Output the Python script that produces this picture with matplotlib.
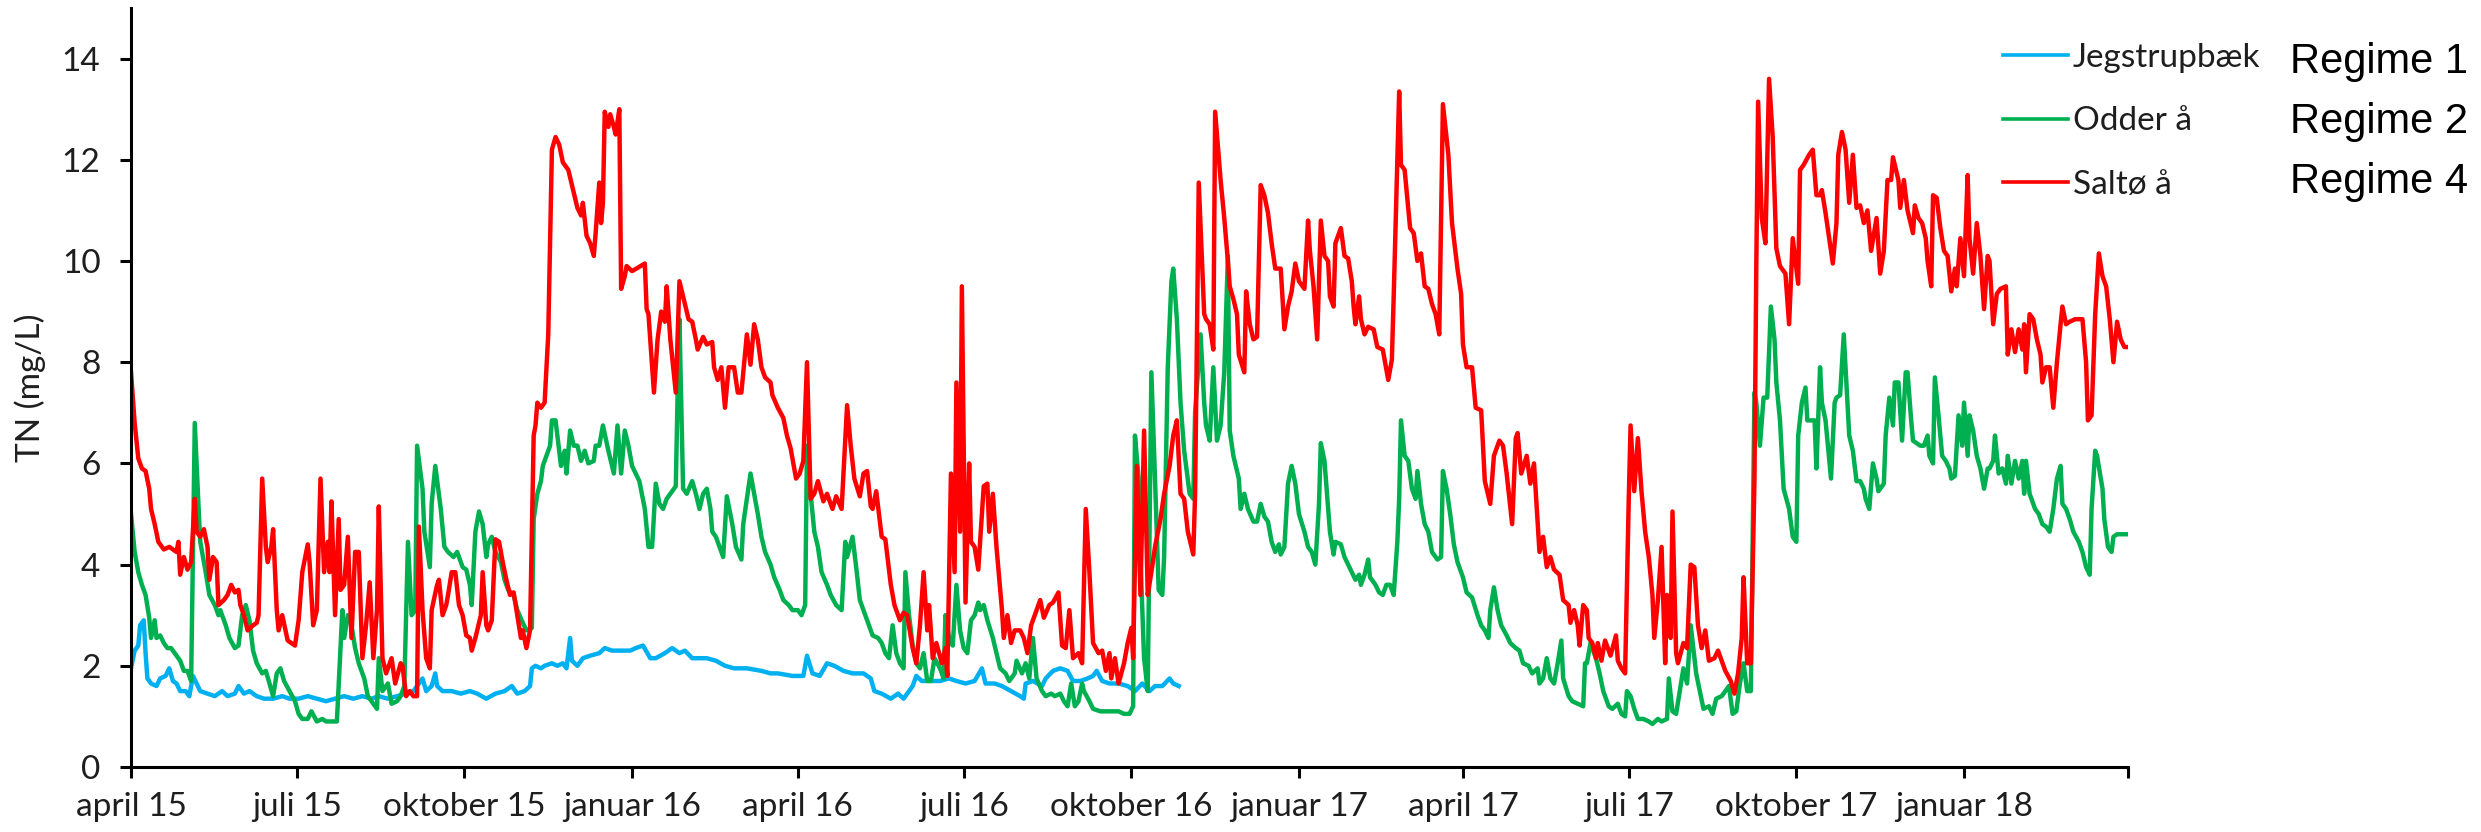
import numpy as np
import matplotlib
matplotlib.use('Agg')
import matplotlib.pyplot as plt

# ---------------- data (day offset from 1 April 2015, TN mg/L) ----------------
start_date = '2015-04-01'
end_date = '2018-04-01'

jeg_days = [0, 2, 4, 5, 7, 8, 9, 11, 14, 16, 19, 21, 23, 25, 27, 30, 32, 34, 36, 38, 42, 46, 50, 53, 57, 59, 62, 65,
            69, 73, 78, 83, 87, 92, 97, 102, 107, 112, 117, 122, 127, 132, 136, 141, 146, 151, 155, 157, 160, 162,
            165, 167, 168, 171, 176, 181, 186, 190, 195, 200, 205, 209, 212, 216, 219, 220, 222, 225, 227, 231, 234,
            237, 239, 241, 242, 245, 248, 252, 257, 260, 264, 269, 274, 277, 281, 285, 288, 293, 297, 301, 304, 308,
            311, 316, 321, 326, 331, 338, 346, 351, 355, 363, 369, 371, 374, 378, 382, 386, 391, 396, 402, 406, 408,
            412, 417, 421, 424, 427, 429, 431, 434, 439, 444, 449, 453, 458, 463, 467, 469, 474, 478, 483, 488, 490,
            491, 495, 500, 502, 506, 510, 514, 517, 521, 525, 528, 530, 533, 537, 542, 547, 551, 555, 559, 562, 566,
            570, 572, 575]
jeg_tn = [1.95, 2.3, 2.4, 2.8, 2.9, 2.25, 1.75, 1.65, 1.6, 1.75, 1.8, 1.95, 1.7, 1.65, 1.5, 1.5, 1.4, 1.8, 1.65, 1.5,
          1.45, 1.4, 1.5, 1.4, 1.45, 1.6, 1.45, 1.5, 1.4, 1.35, 1.35, 1.4, 1.35, 1.35, 1.4, 1.35, 1.3, 1.35, 1.4, 1.35,
          1.4, 1.35, 1.4, 1.35, 1.4, 1.45, 1.5, 1.6, 1.75, 1.5, 1.6, 1.85, 1.6, 1.5, 1.5, 1.45, 1.5, 1.45, 1.35, 1.45,
          1.5, 1.6, 1.45, 1.5, 1.6, 1.95, 2.0, 1.95, 2.0, 2.05, 2.0, 2.05, 1.95, 2.55, 2.1, 2.0, 2.15, 2.2, 2.25, 2.35,
          2.3, 2.3, 2.3, 2.35, 2.4, 2.15, 2.15, 2.25, 2.35, 2.25, 2.3, 2.15, 2.15, 2.15, 2.1, 2.0, 1.95, 1.95, 1.9,
          1.85, 1.85, 1.8, 1.8, 2.2, 1.85, 1.8, 2.05, 2.0, 1.9, 1.85, 1.85, 1.75, 1.5, 1.45, 1.35, 1.45, 1.35, 1.5,
          1.6, 1.8, 1.7, 1.7, 1.7, 1.75, 1.7, 1.65, 1.7, 1.95, 1.65, 1.65, 1.6, 1.5, 1.4, 1.35, 1.65, 1.7, 1.6, 1.75,
          1.9, 1.95, 1.9, 1.7, 1.7, 1.75, 1.8, 1.9, 1.7, 1.65, 1.65, 1.6, 1.5, 1.65, 1.5, 1.6, 1.6, 1.75, 1.65, 1.6]

odder_days = [0, 2, 4, 6, 8, 10, 11, 13, 14, 16, 18, 20, 22, 25, 27, 29, 31, 33, 35, 37, 38, 41, 43, 46, 48, 49, 52,
              54, 57, 59, 61, 63, 65, 67, 69, 72, 74, 76, 78, 80, 82, 84, 87, 90, 92, 94, 97, 99, 102, 105, 107, 111,
              113, 116, 117, 119, 121, 123, 125, 128, 130, 133, 135, 136, 138, 141, 143, 146, 148, 150, 152, 154, 156,
              157, 160, 161, 164, 165, 167, 170, 172, 174, 177, 179, 182, 184, 186, 187, 189, 191, 193, 195, 196, 198,
              200, 203, 205, 207, 210, 212, 215, 217, 220, 221, 223, 225, 226, 228, 230, 231, 233, 235, 236, 238, 239,
              241, 243, 245, 247, 249, 251, 254, 255, 257, 259,
              262, 265, 267, 269, 271, 273, 275, 277, 279, 282, 284, 286, 288, 290, 292, 294, 297, 299, 300, 301, 303,
              305, 308, 310, 312, 314, 316, 318, 319, 321, 323, 325, 327, 330, 332, 335, 336, 338, 340, 342, 344, 346,
              348, 351, 353, 356, 358, 361, 363, 366, 368, 370, 371, 373, 375, 377, 379, 382, 384, 387, 390, 392, 393,
              396, 398, 400, 402, 405, 407, 410, 412, 414, 416, 418, 420, 422, 424, 425, 427, 429, 431, 433, 435, 437,
              439, 441, 444, 446, 447, 449, 451, 453, 455, 457, 459, 461, 463, 465, 466, 468, 470, 473, 475, 477, 480,
              482, 485, 486, 489, 491, 493, 495, 497, 500, 502, 505, 507, 510, 512, 514, 516, 518, 520, 522, 523, 526,
              528, 532, 537, 542, 545, 548, 550, 551, 553, 554, 556, 558, 560, 562, 564, 566, 567, 569, 571, 572, 574,
              576, 578, 581, 583, 584,
              587, 589, 590, 592, 594, 596, 598, 600, 602, 603, 605, 608, 609, 611, 613, 616, 618, 620, 622, 624, 626,
              628, 630, 631, 633, 635, 637, 639, 641, 644, 646, 648, 650, 652, 653, 655, 657, 658, 660, 661, 664, 666,
              668, 670, 672, 674, 675, 677, 679, 680, 683, 685, 687, 689, 691, 693, 695, 696, 697, 699, 701, 703, 705,
              706, 708, 710, 712, 714, 717, 719, 720, 722, 724, 726, 728, 731, 733, 736, 739, 741, 743, 745, 746, 748,
              750, 752, 755, 757, 760, 762, 764, 767, 769, 772, 773, 775, 777, 779, 781, 783, 785, 786, 789, 791, 794,
              797, 798, 799, 801, 804, 806, 808, 811, 813, 816, 818, 820, 821, 823, 825, 827, 830, 833, 835, 838, 840,
              843, 844, 846, 848, 850, 852, 854, 856, 859, 861, 863, 866, 868, 870, 873, 875, 877, 879, 881, 883, 885,
              887, 889, 891, 892, 894, 896, 898, 900, 902, 903, 905, 907, 910, 912, 914, 915,
              917, 919, 920, 922, 924, 925, 927, 928, 930, 933, 935, 936, 938, 940, 942, 943, 945, 947, 949, 951, 952,
              954, 956, 958, 959, 962, 963, 965, 967, 968, 970, 972, 974, 975, 977, 978, 980, 982, 984, 986, 987, 989,
              990, 992, 994, 996, 998, 999, 1001, 1003, 1005, 1006, 1008, 1009, 1011, 1013, 1015, 1017, 1019, 1020,
              1022, 1023, 1025, 1027, 1029, 1030, 1032, 1034, 1036, 1038, 1039, 1040, 1042, 1045, 1047, 1049, 1051,
              1053, 1055, 1057, 1059, 1060, 1062, 1064, 1066, 1069, 1071, 1073, 1075, 1076, 1078, 1079, 1082, 1083,
              1085, 1087, 1088, 1090, 1096]
odder_tn = [5.0, 4.25, 3.85, 3.6, 3.4, 2.95, 2.55, 2.9, 2.55, 2.6, 2.45, 2.35, 2.35, 2.2, 2.1, 1.9, 1.9, 1.7, 6.8, 5.2,
            4.45, 3.85, 3.4, 3.2, 3.0, 3.1, 2.8, 2.55, 2.35, 2.4, 3.0, 3.2, 2.9, 2.3, 2.05, 1.85, 1.9, 1.65, 1.4, 1.85,
            1.95, 1.7, 1.5, 1.3, 1.05, 0.95, 0.95, 1.1, 0.9, 0.95, 0.9, 0.9, 0.9, 3.1, 2.55, 3.0, 2.8, 2.35, 2.05,
            1.75, 1.4, 1.25, 1.15, 2.15, 1.5, 1.65, 1.25, 1.3, 1.4, 1.6, 4.45, 3.0, 3.1, 6.35, 5.5, 4.65, 3.95, 5.2,
            5.95, 5.1, 4.35, 4.25, 4.15, 4.25, 3.95, 3.9, 3.6, 3.2, 4.65, 5.05, 4.8, 4.15, 4.4, 4.55, 4.25, 4.05, 3.7,
            3.5, 3.4, 3.1, 2.85, 2.7, 2.75, 4.9, 5.4, 5.65, 5.95, 6.15, 6.35, 6.85, 6.85, 6.25, 5.95, 6.25, 5.8, 6.65,
            6.35, 6.35, 6.05, 6.25, 6.0, 6.05, 6.35, 6.35, 6.75,
            6.25, 5.8, 6.75, 5.8, 6.65, 6.35, 5.95, 5.8, 5.65, 5.1, 4.35, 4.35, 5.6, 5.2, 5.1, 5.3, 5.45, 5.55, 7.4,
            8.85, 5.5, 5.4, 5.65, 5.4, 5.1, 5.4, 5.5, 5.1, 4.65, 4.55, 4.35, 4.15, 5.35, 4.8, 4.35, 4.1, 4.8, 5.3, 5.8,
            5.4, 5.0, 4.55, 4.25, 4.0, 3.75, 3.5, 3.3, 3.2, 3.1, 3.1, 3.0, 3.2, 6.35, 5.4, 4.65, 4.35, 3.85, 3.6, 3.4,
            3.2, 3.1, 4.45, 4.15, 4.55, 3.95, 3.3, 3.1, 2.8, 2.6, 2.55, 2.45, 2.25, 2.15, 2.8, 2.25, 2.05, 1.95, 3.85,
            3.0, 2.4, 2.05, 1.95, 2.25, 1.7, 1.7, 2.15, 1.95, 1.75, 3.0, 2.55, 2.4, 3.6, 2.7, 2.35, 2.25, 2.9, 3.0,
            3.25, 3.1, 3.2, 2.9, 2.55, 2.25, 1.95, 1.85, 1.7, 1.85, 2.1, 1.85, 2.05, 1.75, 2.55, 1.75, 1.5, 1.4, 1.45,
            1.4, 1.45, 1.3, 1.2, 1.65, 1.2, 1.3, 1.65, 1.5, 1.3, 1.15, 1.1, 1.1, 1.1, 1.05, 1.05, 1.2, 6.55, 5.7, 4.15,
            2.15, 1.5, 7.8, 5.7, 3.5, 3.4, 4.15, 7.9, 9.6, 9.85, 8.85, 7.2, 6.25, 5.4, 5.3, 7.0,
            8.55, 7.2, 6.75, 6.45, 7.9, 6.45, 6.75, 7.8, 10.1, 6.65, 6.15, 5.7, 5.1, 5.4, 5.1, 4.85, 4.85, 5.2, 4.95,
            4.85, 4.45, 4.25, 4.4, 4.2, 4.35, 5.6, 5.95, 5.6, 5.0, 4.65, 4.35, 4.25, 4.0, 5.2, 6.4, 6.05, 5.1, 4.65,
            4.2, 4.45, 4.4, 4.15, 4.0, 3.85, 3.7, 3.8, 3.6, 3.8, 4.1, 3.75, 3.6, 3.45, 3.4, 3.6, 3.6, 3.4, 4.45, 5.3,
            6.85, 6.15, 6.05, 5.5, 5.3, 5.85, 5.2, 4.8, 4.65, 4.25, 4.1, 4.15, 5.85, 5.5, 5.0, 4.4, 4.05, 3.75, 3.45,
            3.35, 3.0, 2.8, 2.7, 2.55, 3.1, 3.55, 3.1, 2.8, 2.6, 2.45, 2.35, 2.3, 2.05, 2.0, 1.85, 1.95, 1.65, 1.75,
            2.15, 1.75, 1.65, 2.05, 2.5, 1.75, 1.4, 1.3, 1.25, 1.2, 2.05, 2.05, 2.45, 2.15, 1.85, 1.5, 1.2, 1.15, 1.25,
            1.05, 1.0, 1.5, 1.4, 1.15, 0.95, 0.95, 0.9, 0.85, 0.95, 0.9, 0.95, 1.75, 1.1, 1.05, 1.5, 1.95, 1.65, 2.8,
            1.85, 1.5, 1.15, 1.2, 1.05, 1.35, 1.4, 1.5, 1.6, 1.05, 1.1, 1.65, 2.05, 1.5, 1.5, 7.4, 7.2, 6.35, 7.3,
            7.3, 9.1, 8.45, 7.6, 6.85, 5.5, 5.1, 4.55, 4.45, 6.55,
            7.2, 7.5, 6.85, 6.85, 6.85, 5.9, 7.9, 7.2, 6.85, 5.7, 7.2, 7.3, 7.35, 8.55, 7.2, 6.55, 6.25, 5.65, 5.65,
            5.5, 5.3, 5.1, 6.0, 5.7, 5.45, 5.6, 6.55, 7.3, 6.75, 7.6, 7.6, 6.45, 7.8, 7.8, 6.85, 6.45, 6.4, 6.35,
            6.35, 6.55, 6.15, 6.0, 7.7, 6.95, 6.15, 6.05, 5.9, 5.7, 5.75, 6.95, 6.35, 7.2, 6.15, 6.95, 6.65, 6.15,
            5.9, 5.5, 5.9, 5.9, 6.05, 6.55, 5.8, 5.9, 5.6, 6.15, 5.6, 6.05, 5.7, 6.05, 5.4, 6.05, 5.4, 5.1, 5.0, 4.8,
            4.75, 4.65, 5.1, 5.7, 5.95, 5.2, 5.1, 4.9, 4.65, 4.45, 4.25, 3.95, 3.8, 5.1, 6.25, 6.15, 5.5, 4.9, 4.35,
            4.25, 4.55, 4.6, 4.6]

salto_days = [0, 2, 4, 6, 8, 10, 11, 13, 15, 18, 21, 25, 26, 27, 29, 31, 33, 35, 36, 38, 40, 42, 43, 45, 47, 48, 51,
              53, 55, 57, 59, 60, 62, 64, 67, 69, 70, 72, 74, 75, 77, 78, 80, 81, 83, 86, 90, 92, 94, 97, 98, 100, 102,
              104, 106, 108, 109, 110, 112, 114, 115, 117, 119, 121, 123, 125, 127, 129, 131, 133, 135, 136, 138, 140,
              143, 145, 148, 149, 151, 153, 155, 157, 158, 160, 162, 164, 165, 168, 169, 171, 173, 174, 176, 178, 180,
              182, 184, 186, 187, 189, 192, 193, 195, 196, 198, 200, 202, 204, 206, 208, 210, 212, 214, 215, 217, 219,
              221, 222, 223, 225, 227, 229, 231, 233, 235, 237, 240, 242, 245, 247, 248, 250, 252, 254, 255, 257, 258,
              259,
              260, 262, 263, 265, 266, 268, 269, 271, 272, 275, 282, 283, 284, 287, 289, 291, 293, 294, 296, 299, 301,
              304, 306, 308, 310, 311, 314, 316, 319, 320, 322, 324, 326, 328, 331, 333, 335, 338, 340, 342, 344, 346,
              348, 351, 352, 355, 358, 360, 362, 365, 367, 369, 371, 373, 375, 377, 380, 382, 385, 387, 390, 393, 395,
              397, 400, 402, 404, 406, 407, 409, 412, 414, 417, 419, 422, 424, 426, 429, 431, 433, 435, 437, 438, 440,
              442, 445, 447, 448, 450, 452, 453, 455, 456, 458, 460, 461, 463, 465, 468, 470, 471, 473, 475, 478, 479,
              481, 483, 485, 488, 490, 492, 494, 496, 499, 501, 504, 506, 509, 511, 513, 515, 517, 520, 522, 524, 526,
              528, 531, 533, 535, 537, 538, 540, 542, 545, 547, 549, 550, 552, 554, 556, 558, 560, 562, 565, 567, 570,
              572, 574, 576, 578, 580, 583, 584, 586,
              589, 590, 592, 594, 595, 598, 600, 602, 603, 605, 607, 608, 611, 612, 614, 616, 618, 620, 622, 624, 626,
              628, 631, 633, 635, 637, 639, 641, 643, 644, 646, 647, 649, 651, 653, 655, 657, 658, 660, 661, 664, 666,
              668, 670, 671, 672, 674, 675, 677, 679, 682, 684, 687, 688, 690, 692, 693, 695, 696, 697, 699, 702, 704,
              706, 708, 710, 712, 714, 716, 718, 720, 723, 725, 728, 730, 731, 733, 736, 738, 741, 743, 746, 748, 751,
              753, 755, 758, 760, 761, 763, 766, 768, 770, 773, 775, 777, 779, 781, 784, 786, 789, 790, 792, 794, 795,
              797, 799, 800, 802, 804, 805, 807, 809, 812, 815, 816, 818, 820, 822, 823, 825, 827, 829, 831, 833, 835,
              836, 838, 840, 842, 843, 845, 846, 848, 849, 852, 854, 856, 858, 860, 862, 864, 866, 869, 871, 873, 875,
              878, 880, 882, 884, 885, 887, 889, 891, 892, 893, 895, 897, 899, 901, 903, 905, 908, 910, 912, 915, 916,
              918, 921, 923, 925, 927, 928, 930, 932, 934, 936, 937, 939, 941, 943, 945, 947, 949, 951, 953, 955, 958,
              960, 962, 964, 966, 967, 970, 971, 973, 975, 978, 979, 981, 983, 985, 986, 988, 989, 991, 993, 995, 997,
              999, 1001, 1002, 1004, 1006, 1008, 1009, 1011, 1013, 1015, 1017, 1019, 1020, 1022, 1024, 1026, 1029,
              1030, 1032, 1034, 1036, 1038, 1039, 1040, 1042, 1044, 1046, 1048, 1049, 1051, 1053, 1055, 1057, 1059,
              1060, 1062, 1064, 1067, 1071, 1073, 1074, 1076, 1078, 1080, 1082, 1084, 1086, 1088, 1090, 1092, 1094,
              1096]
salto_tn = [7.8, 6.8, 6.1, 5.9, 5.85, 5.5, 5.1, 4.8, 4.45, 4.3, 4.35, 4.25, 4.45, 3.8, 4.15, 3.9, 4.05, 5.3, 4.65,
            4.55, 4.7, 4.35, 3.7, 4.15, 4.05, 3.2, 3.3, 3.4, 3.6, 3.45, 3.5, 3.2, 3.0, 2.7, 2.8, 2.85, 3.0, 5.7, 4.35,
            4.05, 4.35, 4.7, 3.1, 2.7, 3.0, 2.5, 2.4, 2.9, 3.85, 4.4, 4.05, 2.8, 3.1, 5.7, 3.85, 4.45, 3.85, 5.25, 3.0,
            4.9, 3.5, 3.6, 4.55, 2.55, 4.25, 4.25, 2.15, 2.8, 3.65, 2.15, 3.1, 5.15, 2.15, 1.85, 2.15, 1.65, 2.05, 2.0,
            1.4, 1.5, 1.4, 1.4, 4.75, 3.1, 2.15, 1.95, 3.1, 3.6, 3.7, 3.0, 3.2, 3.4, 3.85, 3.85, 3.2, 3.0, 2.6, 2.55,
            2.3, 2.55, 3.0, 3.85, 2.8, 2.7, 2.9, 4.5, 4.45, 4.05, 3.7, 3.4, 3.45, 3.0, 2.55, 2.7, 2.35, 2.7, 6.55, 6.75,
            7.2, 7.1, 7.2, 8.55, 12.2, 12.45, 12.3, 11.95, 11.8, 11.5, 11.05, 10.9, 11.15, 10.5, 10.35, 10.1, 10.55,
            11.55, 10.75, 11.15,
            12.95, 12.65, 12.9, 12.65, 12.5, 13.0, 9.45, 9.7, 9.9, 9.8, 9.95, 9.05, 8.95, 7.4, 8.45, 9.0, 8.8, 9.5,
            8.45, 7.4, 9.6, 9.15, 8.85, 8.8, 8.45, 8.25, 8.5, 8.35, 8.4, 7.9, 7.65, 7.9, 7.1, 7.9, 7.9, 7.4, 7.4, 8.55,
            7.95, 8.75, 8.45, 7.9, 7.7, 7.6, 7.35, 7.1, 6.9, 6.55, 6.3, 5.7, 5.8, 6.05, 8.0, 5.3, 5.4, 5.65, 5.25, 5.4,
            5.1, 5.35, 5.1, 7.15, 6.35, 5.7, 5.35, 5.8, 5.85, 5.15, 5.1, 5.45, 4.55, 4.5, 3.6, 3.2, 2.9, 3.05, 3.0,
            2.35, 2.05, 2.8, 3.85, 2.7, 3.2, 2.15, 2.45, 2.05, 2.35, 1.8, 5.8, 3.85, 7.6, 4.65, 9.5, 3.25, 6.0, 4.45,
            4.35, 3.9, 5.55, 5.6, 4.65, 5.4, 4.35, 3.1, 2.55, 3.0, 2.45, 2.7, 2.7, 2.55, 2.25, 2.8, 3.0, 3.3, 2.95,
            3.2, 3.25, 3.45, 2.4, 2.35, 3.1, 2.15, 2.25, 2.05, 5.1, 3.85, 2.45, 2.25, 2.3, 1.9, 2.25, 1.75, 2.15, 1.65,
            2.05, 2.45, 2.75, 2.15, 5.95, 3.4, 6.65, 3.4, 3.85, 4.35, 4.9, 5.4, 5.95, 6.55, 6.85, 5.4, 5.3, 4.65, 4.2,
            5.4, 11.55,
            8.95, 8.85, 8.75, 8.25, 12.95, 11.6, 10.85, 10.0, 9.5, 9.25, 8.95, 8.15, 7.8, 9.4, 8.75, 8.45, 8.5, 11.5,
            11.3, 10.95, 10.35, 9.85, 9.85, 8.65, 9.1, 9.4, 9.95, 9.6, 9.5, 9.45, 10.8, 10.2, 9.5, 8.45, 10.8, 10.1,
            10.0, 9.3, 9.1, 10.35, 10.65, 10.1, 10.05, 9.6, 9.1, 8.75, 9.3, 8.85, 8.55, 8.7, 8.65, 8.3, 8.25, 8.05,
            7.65, 8.05, 9.3, 12.0, 13.35, 11.9, 11.8, 10.65, 10.55, 10.0, 10.15, 9.5, 9.45, 9.15, 8.95, 8.55, 13.1,
            12.1, 10.75, 9.85, 9.35, 8.35, 7.9, 7.9, 7.1, 7.05, 5.65, 5.2, 6.15, 6.45, 6.35, 5.8, 4.8, 6.5, 6.6, 5.8,
            6.15, 5.6, 6.0, 4.25, 4.55, 3.95, 4.15, 3.9, 3.8, 3.3, 3.2, 2.85, 3.1, 2.8, 2.4, 3.2, 3.1, 2.55, 2.45,
            2.15, 2.45, 2.1, 2.5, 2.2, 2.6, 2.1, 1.95, 1.85, 5.3, 6.75, 5.45, 6.5, 5.45, 4.65, 4.15, 3.4, 2.55, 3.3,
            4.35, 2.05, 3.4, 2.55, 5.05, 2.25, 2.05, 2.45, 2.35, 4.0, 3.95, 2.8, 2.35, 2.7, 2.1, 2.15, 2.3, 2.1, 1.9,
            1.7, 1.45, 1.85, 2.55, 3.75, 2.05, 2.05, 5.7, 9.9, 13.15, 10.85, 10.35, 13.6, 12.45, 10.25, 9.9, 9.75,
            8.75, 10.45, 9.55, 11.8,
            11.9, 12.1, 12.2, 11.3, 11.3, 11.4, 10.95, 10.45, 9.95, 10.75, 12.1, 12.55, 12.2, 11.15, 12.1, 11.05, 11.1,
            10.75, 11.0, 10.2, 10.85, 9.75, 10.2, 11.6, 11.6, 12.05, 11.6, 11.05, 11.6, 11.0, 10.55, 11.1, 10.85,
            10.75, 10.45, 10.0, 9.5, 11.3, 11.25, 10.65, 10.2, 10.1, 9.4, 9.85, 9.5, 10.45, 9.7, 11.7, 10.45, 9.75,
            10.75, 10.1, 9.05, 10.1, 10.0, 8.75, 9.35, 9.45, 9.5, 8.15, 8.65, 8.2, 8.65, 8.25, 8.75, 7.8, 8.95, 8.85,
            8.45, 8.15, 7.6, 7.9, 7.9, 7.1, 8.0, 8.75, 9.1, 8.75, 8.8, 8.85, 8.85, 8.0, 6.85, 6.95, 8.95, 10.15, 9.7,
            9.5, 8.85, 8.0, 8.8, 8.45, 8.3, 8.3]

series_names = ['Jegstrupbæk', 'Odder å', 'Saltø å']
regime_labels = ['Regime 1', 'Regime 2', 'Regime 4']
tick_dates = ['2015-04-01', '2015-07-01', '2015-10-01', '2016-01-01', '2016-04-01', '2016-07-01', '2016-10-01',
              '2017-01-01', '2017-04-01', '2017-07-01', '2017-10-01', '2018-01-01', '2018-04-01']
tick_labels = ['april 15', 'juli 15', 'oktober 15', 'januar 16', 'april 16', 'juli 16', 'oktober 16',
               'januar 17', 'april 17', 'juli 17', 'oktober 17', 'januar 18', '']
y_ticks = [0, 2, 4, 6, 8, 10, 12, 14]
y_label = 'TN (mg/L)'

# ---------------- plot ----------------
plt.rcParams['font.family'] = ['Lato', 'DejaVu Sans']
text_color = '#1e1e1e'

W, H = 2481, 832
fig = plt.figure(figsize=(W / 100, H / 100), dpi=100)
ax = fig.add_axes([131 / W, 65 / H, 1997 / W, 759 / H])

t0 = np.datetime64(start_date)


def to_dates(days):
    return t0 + np.array(days).astype('timedelta64[D]')


colors = ['#00B0F0', '#00B050', '#FF0000']
lw = 3.2
ax.plot(to_dates(jeg_days), jeg_tn, color=colors[0], lw=lw, label=series_names[0], solid_joinstyle='round')
ax.plot(to_dates(odder_days), odder_tn, color=colors[1], lw=lw, label=series_names[1], solid_joinstyle='round')
ax.plot(to_dates(salto_days), salto_tn, color=colors[2], lw=lw, label=series_names[2], solid_joinstyle='round')

ax.set_xlim(np.datetime64(start_date), np.datetime64(end_date))
ax.set_ylim(0, 15)
ax.set_yticks(y_ticks)
ax.set_xticks(np.array(tick_dates, dtype='datetime64[D]'))
ax.set_xticklabels(tick_labels)

for s in ['top', 'right']:
    ax.spines[s].set_visible(False)
for s in ['left', 'bottom']:
    ax.spines[s].set_linewidth(2.2)
    ax.spines[s].set_color('black')

ax.tick_params(axis='both', which='major', width=2.2, length=8, labelsize=24, labelcolor=text_color,
               color='black', direction='out')
ax.tick_params(axis='x', pad=10)
ax.tick_params(axis='y', pad=14)

ax.set_ylabel(y_label, fontsize=24, color=text_color)
ax.yaxis.set_label_coords((46 - 131) / 1997, 0.5)

leg = ax.legend(loc='upper left', bbox_to_anchor=(2003 / W, 1 - 43 / H), bbox_transform=fig.transFigure,
                frameon=False, fontsize=24, handlelength=1.95, handletextpad=0.15, labelspacing=1.0,
                borderpad=0, borderaxespad=0)
for t in leg.get_texts():
    t.set_color(text_color)
for h in leg.get_lines():
    h.set_linewidth(2.6)

regime_baselines = [73, 133, 193]
for lab, yb in zip(regime_labels, regime_baselines):
    fig.text(2290 / W, 1 - yb / H, lab, fontsize=30, family='Liberation Sans', va='baseline', ha='left',
             color='black')

fig.savefig('out.png', dpi=100)
